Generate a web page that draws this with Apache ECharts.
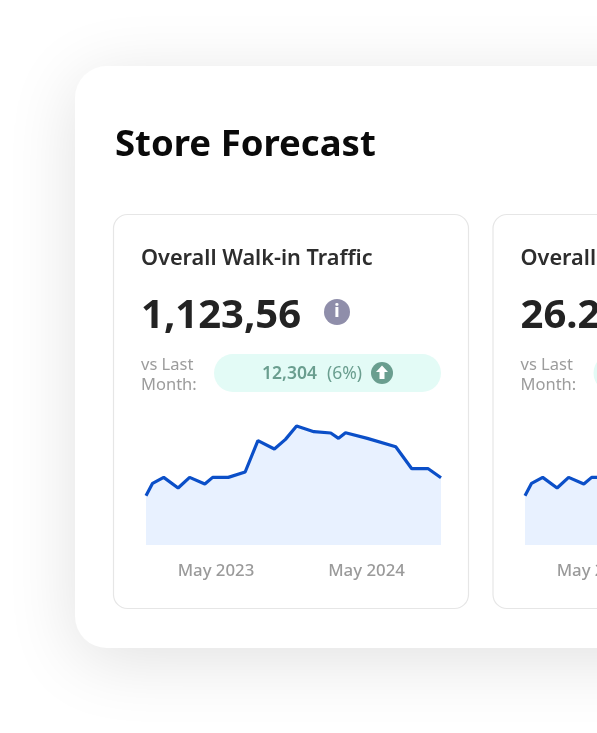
<!DOCTYPE html>
<html>
<head>
<meta charset="utf-8">
<title>Store Forecast</title>
<style>
  html, body { margin: 0; padding: 0; background: #fff; overflow: hidden; }
  #chart { width: 597px; height: 733px; }
</style>
<script src="https://cdn.jsdelivr.net/npm/echarts@6/dist/echarts.min.js"></script>
</head>
<body>
<div id="chart"></div>
<script>
// values
const pointDates = [
  "2022-11-12", "2022-11-28", "2022-12-25", "2023-01-29", "2023-02-26", "2023-04-04",
  "2023-04-23", "2023-05-31", "2023-07-11", "2023-08-11", "2023-09-20", "2023-10-17",
  "2023-11-13", "2023-12-25", "2024-02-04", "2024-02-23", "2024-03-11", "2024-05-03",
  "2024-07-11", "2024-08-19", "2024-09-28", "2024-10-29"
];
const walkInValues = [148, 185, 203, 171, 203, 183, 203, 203, 219, 313, 288, 317, 357, 340, 336, 320, 337, 320, 295, 229, 229, 202];
const secondValues = [148, 185, 203, 171, 203, 183, 203, 203, 219, 313, 288, 317, 357, 340, 336, 320, 337, 320, 295, 229, 229, 202];
const tickDates = ["2023-05-01", "2024-05-01"];
const monthNames = ["Jan", "Feb", "Mar", "Apr", "May", "Jun", "Jul", "Aug", "Sep", "Oct", "Nov", "Dec"];

const FONT = '"Noto Sans", "Open Sans", sans-serif';
const CARD_OFFSET = 379.5; // second card sits this far right of the first

const chart = echarts.init(document.getElementById("chart"));

function text(str, x, y, size, weight, fill, align) {
  return {
    type: "text",
    z: 5,
    style: {
      text: str, x: x, y: y, fill: fill,
      font: weight + " " + size + "px " + FONT,
      textAlign: align || "left",
      textVerticalAlign: "middle"
    }
  };
}

// one small stat card, title and number differ per card
function cardGraphics(dx, title, value) {
  return [
    {
      type: "rect", z: 1,
      shape: { x: 113.5 + dx, y: 214.5, width: 355, height: 394, r: 14 },
      style: { fill: "#fff", stroke: "#e6e6e6", lineWidth: 1.2 }
    },
    text(title, 141 + dx, 258.5, 21.7, 600, "#2d2d2d"),
    text(value, 141 + dx, 317, 40, 700, "#232323"),
    text("vs Last", 141 + dx, 365, 16.5, 400, "#9c9c9c"),
    text("Month:", 141 + dx, 385, 16.5, 400, "#9c9c9c"),
    {
      type: "rect", z: 2,
      shape: { x: 214 + dx, y: 354, width: 227, height: 38, r: 19 },
      style: { fill: "#e3fbf6" }
    }
  ];
}

const graphics = [
  // big white sheet with the soft shadow
  {
    type: "rect", z: 0,
    shape: { x: 75, y: 66, width: 700, height: 582, r: 32 },
    style: { fill: "#fff", shadowBlur: 70, shadowColor: "rgba(0,0,0,0.12)", shadowOffsetY: 12 }
  },
  text("Store Forecast", 115, 145.5, 36.5, 700, "#0a0a0a")
]
  .concat(cardGraphics(0, "Overall Walk-in Traffic", "1,123,56"))
  .concat(cardGraphics(CARD_OFFSET, "Overall", "26.2"))
  .concat([
    // info icon
    { type: "circle", z: 3, shape: { cx: 337, cy: 312, r: 13 }, style: { fill: "#8f8eaa" } },
    text("i", 337, 312.5, 17, 800, "#fff", "center"),
    // pill content
    text("12,304", 262, 374, 17.5, 600, "#6a9e8f"),
    text("(6%)", 327, 374, 17.5, 400, "#6a9e8f"),
    { type: "circle", z: 3, shape: { cx: 382, cy: 373, r: 11 }, style: { fill: "#6a9e8f" } },
    {
      type: "polygon", z: 4,
      shape: { points: [[382, 365.5], [388, 372], [384.5, 372], [384.5, 379], [379.5, 379], [379.5, 372], [376, 372]] },
      style: { fill: "#fff" }
    }
  ]);

function toTime(d) {
  return new Date(d).getTime();
}

function pairs(values) {
  return values.map(function (v, i) { return [toTime(pointDates[i]), v]; });
}

// value axis over timestamps, only the two May labels get drawn
function xAxisFor(gridIndex) {
  return {
    type: "value",
    gridIndex: gridIndex,
    z: 6,
    min: toTime(pointDates[0]),
    max: toTime(pointDates[pointDates.length - 1]),
    axisLine: { show: false },
    axisTick: { show: false },
    splitLine: { show: false },
    axisLabel: {
      customValues: tickDates.map(toTime),
      margin: 18,
      color: "#9a9a9a",
      fontFamily: FONT,
      fontSize: 16.8,
      fontWeight: 500,
      hideOverlap: false,
      formatter: function (val) {
        const d = new Date(val);
        return monthNames[d.getUTCMonth()] + " " + d.getUTCFullYear();
      }
    }
  };
}

function seriesFor(gridIndex, values) {
  return {
    type: "line",
    xAxisIndex: gridIndex,
    yAxisIndex: gridIndex,
    data: pairs(values),
    symbol: "none",
    clip: false,
    lineStyle: { color: "#0b4fc8", width: 3.2 },
    areaStyle: { color: "#e8f1ff", opacity: 1 }
  };
}

chart.setOption({
  animation: false,
  graphic: { elements: graphics },
  // second grid runs past the page edge, so it must not be squeezed into the canvas
  grid: [
    { left: 146, top: 411.7, width: 295, height: 133.3, outerBoundsMode: "none" },
    { left: 525, top: 411.7, width: 295, height: 133.3, outerBoundsMode: "none" }
  ],
  xAxis: [xAxisFor(0), xAxisFor(1)],
  yAxis: [0, 1].map(function (i) {
    return { type: "value", gridIndex: i, min: 0, max: 400, show: false };
  }),
  series: [seriesFor(0, walkInValues), seriesFor(1, secondValues)]
});
</script>
</body>
</html>
